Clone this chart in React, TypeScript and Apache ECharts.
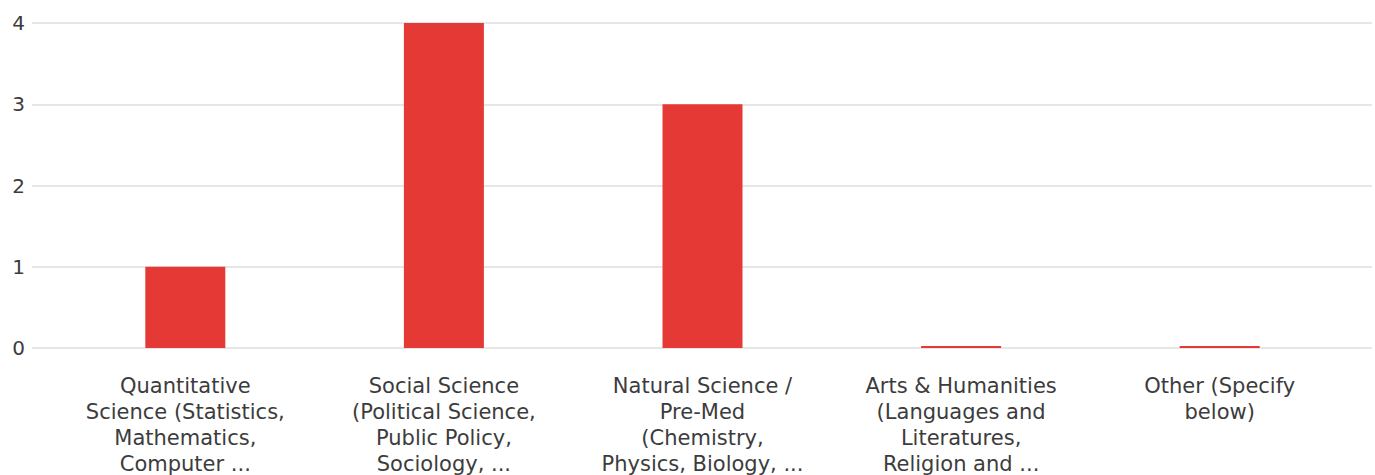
import React, { useEffect, useRef } from "react";
import * as echarts from "echarts";

const categories = [
  "Quantitative\nScience (Statistics,\nMathematics,\nComputer ...",
  "Social Science\n(Political Science,\nPublic Policy,\nSociology, ...",
  "Natural Science /\nPre-Med\n(Chemistry,\nPhysics, Biology, ...",
  "Arts & Humanities\n(Languages and\nLiteratures,\nReligion and ...",
  "Other (Specify\nbelow)",
];
const values = [1, 4, 3, 0, 0];
const yMin = 0;
const yMax = 4;
const yInterval = 1;

const FONT = "'DejaVu Sans', sans-serif";
const TEXT = "#3c3c3c";

export default function App() {
  const ref = useRef<HTMLDivElement>(null);
  useEffect(() => {
    if (!ref.current) return;
    const chart = echarts.init(ref.current, undefined, { renderer: "svg" });
    chart.setOption({
      animation: false,
      grid: [
        { left: 32, right: 3, top: 23, bottom: 127, containLabel: false, outerBoundsMode: "none" },
        { left: 56, right: 26, top: 23, bottom: 127, containLabel: false, outerBoundsMode: "none" },
      ],
      xAxis: [
        { type: "category", gridIndex: 0, data: [""], show: false },
        {
          type: "category",
          gridIndex: 1,
          data: categories,
          axisLine: { show: false },
          axisTick: { show: false },
          axisLabel: {
            interval: 0,
            margin: 25,
            color: TEXT,
            fontFamily: FONT,
            fontSize: 21,
            lineHeight: 26,
            align: "center",
            verticalAlign: "top",
          },
        },
      ],
      yAxis: [
        {
          type: "value",
          gridIndex: 0,
          min: yMin,
          max: yMax,
          interval: yInterval,
          axisLine: { show: false },
          axisTick: { show: false },
          axisLabel: { color: TEXT, fontFamily: FONT, fontSize: 20, margin: 7 },
          splitLine: { lineStyle: { color: "#e6e6e6", width: 2 } },
        },
        {
          type: "value",
          gridIndex: 1,
          min: yMin,
          max: yMax,
          interval: yInterval,
          show: false,
          splitLine: { show: false },
        },
      ],
      series: [
        {
          type: "bar",
          xAxisIndex: 1,
          yAxisIndex: 1,
          data: values,
          barWidth: 80,
          barMinHeight: 2,
          itemStyle: { color: "#e53935" },
        },
      ],
    });
    return () => chart.dispose();
  }, []);
  return (
    <div
      ref={ref}
      style={{ position: "fixed", left: 0, top: 0, width: 1375, height: 475, background: "#fff" }}
    />
  );
}
